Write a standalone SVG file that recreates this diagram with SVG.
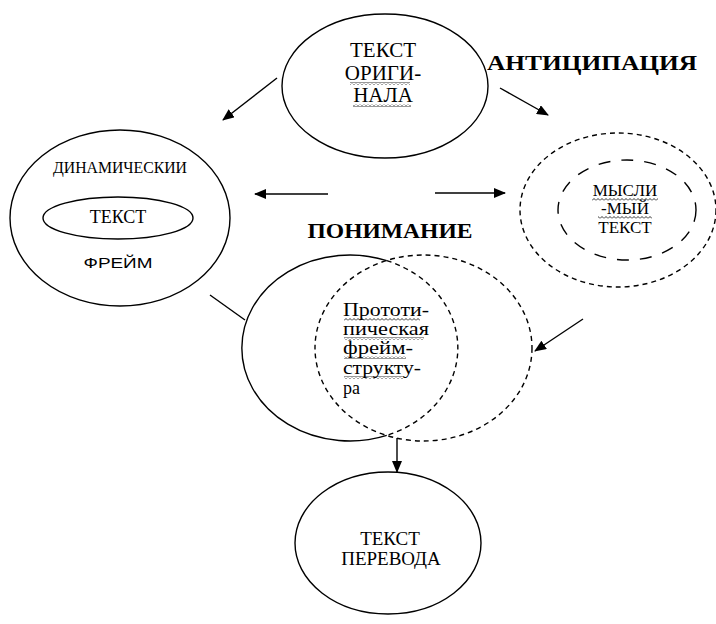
<svg xmlns="http://www.w3.org/2000/svg" width="716" height="624" viewBox="0 0 716 624">
<style>
.ln{fill:none;stroke:#000;stroke-width:1.4}
.d1{stroke-dasharray:5 4}
.d2{stroke-dasharray:12 11}
.t{font-family:"Liberation Serif","Times New Roman",serif;fill:#000;text-anchor:middle}
.s{font-family:"Liberation Sans",Arial,sans-serif;fill:#000;text-anchor:middle}
.l{text-anchor:start}
.w{fill:url(#wavy)}
</style>
<defs>
<marker id="ah" viewBox="0 0 12 10" refX="11" refY="5" markerWidth="12" markerHeight="10" markerUnits="userSpaceOnUse" orient="auto">
<path d="M0,0 L12,5 L0,10 Z" fill="#000"/>
</marker>
<pattern id="wavy" width="4" height="3" patternUnits="userSpaceOnUse">
<path d="M0,2.5 L2,0.5 L4,2.5" fill="none" stroke="#000" stroke-width="0.8"/>
</pattern>
</defs>
<rect width="716" height="624" fill="#fff"/>

<g id="connectors">
<line class="ln" x1="277" y1="78" x2="223" y2="120" marker-end="url(#ah)"/>
<line class="ln" x1="500" y1="88" x2="548" y2="115" marker-end="url(#ah)"/>
<line class="ln" x1="328" y1="194" x2="255" y2="194" marker-end="url(#ah)"/>
<line class="ln" x1="435" y1="193" x2="505" y2="193" marker-end="url(#ah)"/>
<line class="ln" x1="583" y1="319" x2="535" y2="351" marker-end="url(#ah)"/>
<line class="ln" x1="210" y1="295" x2="245" y2="320"/>
<line class="ln" x1="397" y1="438" x2="397" y2="472" marker-end="url(#ah)"/>
</g>

<g id="label-anticipation">
<text class="t" x="592" y="70" font-size="22" font-weight="bold" textLength="210" lengthAdjust="spacingAndGlyphs">АНТИЦИПАЦИЯ</text>
</g>
<g id="label-understanding">
<text class="t" x="390" y="238" font-size="20" font-weight="bold" textLength="165" lengthAdjust="spacingAndGlyphs">ПОНИМАНИЕ</text>
</g>

<g id="node-original">
<ellipse class="ln" cx="385" cy="86" rx="103" ry="72"/>
<text class="t" x="383" y="57" font-size="21">ТЕКСТ</text>
<text class="t" x="383" y="80" font-size="21">ОРИГИ-</text>
<text class="t" x="383" y="102" font-size="21">НАЛА</text>
<rect class="w" x="350" y="82" width="60" height="3"/>
<rect class="w" x="353" y="104" width="58" height="3"/>
</g>

<g id="node-dynamic-frame">
<ellipse class="ln" cx="120" cy="218" rx="110" ry="88"/>
<text class="t" x="120" y="173" font-size="16" textLength="134" lengthAdjust="spacingAndGlyphs">ДИНАМИЧЕСКИИ</text>
<ellipse class="ln" cx="118" cy="218" rx="75" ry="21"/>
<text class="t" x="118" y="223" font-size="18">ТЕКСТ</text>
<text class="s" x="118" y="268" font-size="15" textLength="69" lengthAdjust="spacingAndGlyphs">ФРЕЙМ</text>
</g>

<g id="node-thought-text">
<ellipse class="ln d1" cx="618" cy="210" rx="98" ry="77"/>
<ellipse class="ln d2" cx="627" cy="210" rx="69" ry="50"/>
<text class="t" x="625" y="196" font-size="17">МЫСЛИ</text>
<text class="t" x="625" y="214" font-size="17">-МЫЙ</text>
<text class="t" x="625" y="233" font-size="17">ТЕКСТ</text>
<rect class="w" x="592" y="198" width="66" height="3"/>
<rect class="w" x="598" y="216" width="54" height="3"/>
</g>

<g id="node-prototype">
<path class="ln" d="M386.75,260.6 A108,93 0 1 0 386.75,435.4"/>
<path class="ln d1" d="M386.75,260.6 A108,93 0 0 1 386.75,435.4"/>
<ellipse class="ln d1" cx="423.5" cy="348" rx="108.5" ry="93"/>
<g font-size="18">
<text class="t l" x="343" y="316" textLength="86" lengthAdjust="spacingAndGlyphs">Прототи-</text>
<text class="t l" x="343" y="335" textLength="86" lengthAdjust="spacingAndGlyphs">пическая</text>
<text class="t l" x="343" y="354" textLength="70" lengthAdjust="spacingAndGlyphs">фрейм-</text>
<text class="t l" x="343" y="374" textLength="78" lengthAdjust="spacingAndGlyphs">структу-</text>
<text class="t l" x="343" y="394">ра</text>
</g>
<rect class="w" x="344" y="318" width="76" height="3"/>
<rect class="w" x="344" y="337" width="80" height="3"/>
<rect class="w" x="344" y="356" width="62" height="3"/>
<rect class="w" x="344" y="376" width="60" height="3"/>
</g>

<g id="node-translation">
<ellipse class="ln" cx="388" cy="543" rx="93" ry="71"/>
<text class="t" x="390" y="545" font-size="19">ТЕКСТ</text>
<text class="t" x="391" y="565" font-size="19">ПЕРЕВОДА</text>
</g>
</svg>
